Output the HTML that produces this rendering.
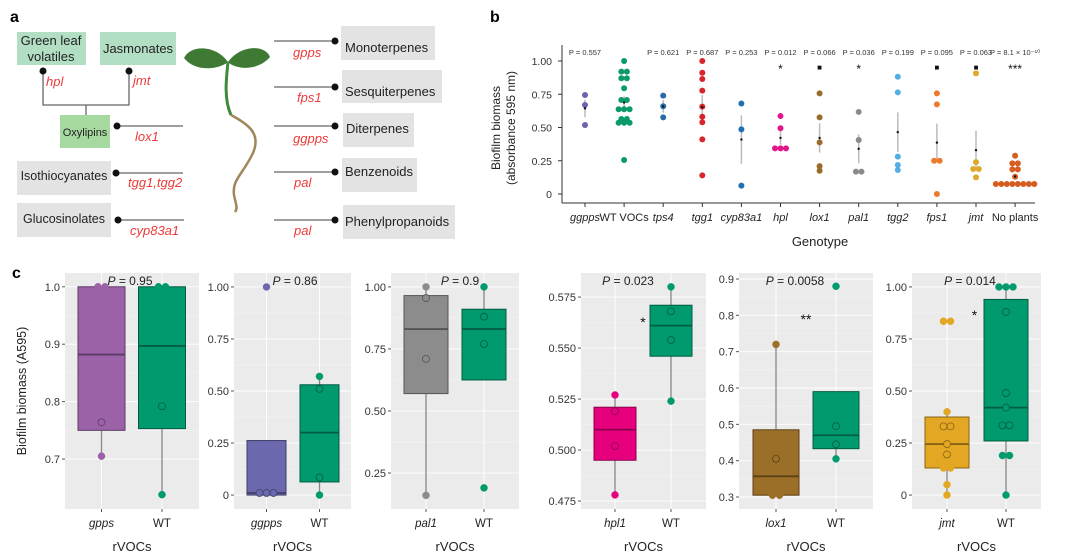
<!DOCTYPE html>
<html><head><meta charset="utf-8">
<style>
html,body{margin:0;padding:0;background:#fff;}
svg{display:block;font-family:"Liberation Sans",sans-serif;}
</style></head>
<body>
<svg id="fig" width="1080" height="554" viewBox="0 0 1080 554" xmlns="http://www.w3.org/2000/svg">
<!-- Panel a -->
<g>
<text x="10" y="22" font-size="16" font-weight="bold">a</text>
<rect x="17" y="32" width="69" height="33" fill="#b2dfc4"/>
<text x="51" y="45" font-size="13" text-anchor="middle" fill="#222">Green leaf</text>
<text x="51" y="61" font-size="13" text-anchor="middle" fill="#222">volatiles</text>
<rect x="100" y="32" width="76" height="33" fill="#b2dfc4"/>
<text x="138" y="53" font-size="13" text-anchor="middle" fill="#222">Jasmonates</text>
<g stroke="#666" stroke-width="1.3" fill="none">
<path d="M43 71 V105 H129 V71"/><path d="M86 105 V115"/>
<path d="M117 126 H183"/><path d="M116 173 H183"/><path d="M118 220 H184"/>
<path d="M274 41 H335"/><path d="M274 87 H335"/><path d="M274 126 H335"/><path d="M274 172 H335"/><path d="M274 220 H335"/>
</g>
<g fill="#111">
<circle cx="43" cy="71" r="3.5"/><circle cx="129" cy="71" r="3.5"/><circle cx="117" cy="126" r="3.5"/><circle cx="116" cy="173" r="3.5"/><circle cx="118" cy="220" r="3.5"/>
<circle cx="335" cy="41" r="3.5"/><circle cx="335" cy="87" r="3.5"/><circle cx="335" cy="126" r="3.5"/><circle cx="335" cy="172" r="3.5"/><circle cx="335" cy="220" r="3.5"/>
</g>
<g fill="#ee3a3a" font-size="13" font-style="italic">
<text x="46" y="86">hpl</text>
<text x="133" y="85">jmt</text>
<text x="135" y="141">lox1</text>
<text x="128" y="187">tgg1,tgg2</text>
<text x="130" y="235">cyp83a1</text>
<text x="293" y="57">gpps</text>
<text x="297" y="102">fps1</text>
<text x="293" y="143">ggpps</text>
<text x="294" y="187">pal</text>
<text x="294" y="235">pal</text>
</g>
<rect x="60" y="115" width="50" height="33" fill="#a6d9a0"/>
<text x="85" y="136" font-size="11" text-anchor="middle" fill="#222">Oxylipins</text>
<rect x="17" y="161" width="94" height="34" fill="#e3e3e3"/>
<text x="64" y="180" font-size="12.5" text-anchor="middle" fill="#222">Isothiocyanates</text>
<rect x="17" y="203" width="94" height="34" fill="#e3e3e3"/>
<text x="64" y="223" font-size="12.5" text-anchor="middle" fill="#222">Glucosinolates</text>
<rect x="341" y="26" width="94" height="34" fill="#e3e3e3"/>
<text x="345" y="52" font-size="13" fill="#222">Monoterpenes</text>
<rect x="342" y="70" width="100" height="33" fill="#e3e3e3"/>
<text x="345" y="96" font-size="13" fill="#222">Sesquiterpenes</text>
<rect x="343" y="113" width="71" height="34" fill="#e3e3e3"/>
<text x="346" y="133" font-size="13" fill="#222">Diterpenes</text>
<rect x="342" y="158" width="75" height="34" fill="#e3e3e3"/>
<text x="345" y="176" font-size="13" fill="#222">Benzenoids</text>
<rect x="343" y="205" width="112" height="34" fill="#e3e3e3"/>
<text x="345" y="226" font-size="13" fill="#222">Phenylpropanoids</text>
<g>
<path d="M228 62 C215 44,190 45,184 58 C195 72,218 70,228 62Z" fill="#3f7a35"/>
<path d="M228 62 C240 45,265 44,270 57 C258 71,236 70,228 62Z" fill="#3f7a35"/>
<path d="M228 62 C226 80,224 100,231 115" stroke="#3f8a3a" stroke-width="3" fill="none"/>
<path d="M231 115 C250 125,262 135,252 155 C242 175,232 180,234 195 C236 205,238 208,235 212" stroke="#a0875a" stroke-width="2.5" fill="none"/>
</g>
</g>

<!-- Panel b static -->
<g>
<text x="490" y="22" font-size="16" font-weight="bold">b</text>
<text transform="translate(500,128) rotate(-90)" font-size="12" text-anchor="middle" fill="#222">Biofilm biomass</text>
<text transform="translate(515,128) rotate(-90)" font-size="12" text-anchor="middle" fill="#222">(absorbance 595 nm)</text>
<text x="820" y="246" font-size="13" text-anchor="middle" fill="#222">Genotype</text>
</g>
<g id="pb"></g>

<!-- Panel c -->
<text x="12" y="278" font-size="16" font-weight="bold">c</text>
<text transform="translate(26,391) rotate(-90)" font-size="12.5" text-anchor="middle" fill="#222">Biofilm biomass (A595)</text>
<g id="pc"></g>
</svg>
<script>
const NS="http://www.w3.org/2000/svg";
function mk(tag,attrs,parent,txt){const e=document.createElementNS(NS,tag);for(const k in attrs)e.setAttribute(k,attrs[k]);if(txt!==undefined)e.textContent=txt;parent.appendChild(e);return e;}

// ===== Panel b data =====
const bCategories=["ggpps","WT VOCs","tps4","tgg1","cyp83a1","hpl","lox1","pal1","tgg2","fps1","jmt","No plants"];
const bItalic=[true,false,true,true,true,true,true,true,true,true,true,false];
const bColors=["#6b63ad","#0a9a6e","#2b6aa8","#d7262b","#1f6fb2","#e0168a","#9a6c2a","#8a8a8a","#55aee3","#ec7a2a","#e0a82a","#d55d20"];
const bPValues=["P = 0.557","","P = 0.621","P = 0.687","P = 0.253","P = 0.012","P = 0.066","P = 0.036","P = 0.199","P = 0.095","P = 0.063","P = 8.1 × 10⁻¹⁰"];
const bSig=["","","","","","*","■","*","","■","■","***"];
const bValues=[
 [0.744,0.669,0.519],
 [1.0,0.92,0.92,0.87,0.87,0.795,0.707,0.707,0.637,0.637,0.637,0.564,0.564,0.536,0.536,0.536,0.256],
 [0.74,0.66,0.576],
 [1.0,0.912,0.865,0.777,0.657,0.581,0.539,0.411,0.14],
 [0.68,0.486,0.063],
 [0.586,0.494,0.343,0.343,0.343],
 [0.757,0.576,0.388,0.21,0.175],
 [0.617,0.406,0.168,0.168],
 [0.882,0.764,0.281,0.218,0.18],
 [0.757,0.674,0.25,0.25,0],
 [0.907,0.24,0.188,0.188,0.125],
 [0.288,0.23,0.23,0.185,0.185,0.13,0.075,0.075,0.075,0.075,0.075,0.075,0.075,0.075]
];
const bTicks=[0,0.25,0.5,0.75,1.0];
const bTickLabels=["0","0.25","0.50","0.75","1.00"];

(function(){
 const g=document.getElementById('pb');
 const y=v=>194-133*v;
 const x=i=>585+i*39.1;
 const ax=mk('line',{x1:562,y1:45,x2:562,y2:203,stroke:'#333','stroke-width':1},g);
 
 
 const bx=mk('line',{x1:562,y1:203,x2:1035,y2:203,stroke:'#333','stroke-width':1},g);
 
 
 bTicks.forEach((t,i)=>{
  mk('line',{x1:558,x2:562,y1:y(t),y2:y(t),stroke:'#333'},g);
  const tl=mk('text',{x:552,y:y(t)+4,'font-size':10.5,'text-anchor':'end',fill:'#333'},g,bTickLabels[i]);
  
  
 });
 bCategories.forEach((c,i)=>{
  const cx=x(i);
  mk('line',{x1:cx,x2:cx,y1:203,y2:207,stroke:'#333'},g);
  const lab=mk('text',{x:cx,y:221,'font-size':11,'text-anchor':'middle',fill:'#222','font-style':bItalic[i]?'italic':'normal'},g,c);
  
  
  if(bPValues[i]){
   const pt=mk('text',{x:cx,y:55,'font-size':7.5,'text-anchor':'middle',fill:'#333'},g,bPValues[i]);
   
   
  }
  if(bSig[i]){
   const st=mk('text',{x:cx,y:bSig[i]==='■'?70:73,'font-size':bSig[i]==='■'?8:12,'text-anchor':'middle',fill:'#111'},g,bSig[i]);
   
   
  }
  const vals=bValues[i];
  const n=vals.length, mean=vals.reduce((a,b)=>a+b,0)/n;
  const sd=Math.sqrt(vals.reduce((a,b)=>a+(b-mean)*(b-mean),0)/Math.max(1,n-1));
  const se=sd/Math.sqrt(n);
  const eb=mk('line',{x1:cx,x2:cx,y1:y(mean+se),y2:y(mean-se),stroke:'#bbb','stroke-width':1.5},g);
  
  
  const groups={};
  vals.forEach(v=>{const k=v.toFixed(3);(groups[k]=groups[k]||[]).push(v);});
  Object.keys(groups).forEach(k=>{
   const arr=groups[k];
   arr.forEach((v,j)=>{
    const dx=(j-(arr.length-1)/2)*5.5;
    const d=mk('circle',{cx:cx+dx,cy:y(v),r:3,fill:bColors[i]},g);
    
    
   });
  });
  const m=mk('circle',{cx:cx,cy:y(mean),r:1.2,fill:'#111'},g);
  
  
 });
})();

// ===== Panel c data =====
const cLabels=[["gpps","WT"],["ggpps","WT"],["pal1","WT"],["hpl1","WT"],["lox1","WT"],["jmt","WT"]];
const cPText=["P = 0.95","P = 0.86","P = 0.9","P = 0.023","P = 0.0058","P = 0.014"];
const cSig=["","","","*","**","*"];
const cMutColors=["#9b62a8","#6b68ae","#8c8c8c","#e6007e","#9c6f28","#e3a724"];
const cWTColor="#009a6e";
// box stats: [lowWhisker,q1,median,q3,highWhisker]
const cMutStats=[[0.705,0.75,0.882,1.0,1.0],[0,0,0.01,0.262,0.262],[0.16,0.57,0.83,0.965,1.0],[0.478,0.495,0.510,0.521,0.527],[0.305,0.305,0.357,0.485,0.72],[0,0.13,0.245,0.375,0.40]];
const cWTStats=[[0.638,0.753,0.897,1.0,1.0],[0,0.063,0.30,0.53,0.57],[0.625,0.625,0.83,0.91,1.0],[0.524,0.546,0.561,0.571,0.58],[0.405,0.433,0.47,0.59,0.59],[0,0.26,0.42,0.94,1.0]];
const cMutPoints=[[1.0,1.0,0.764,0.705],[1.0,0.01,0.01,0.01],[1.0,0.955,0.71,0.16],[0.527,0.519,0.502,0.478],[0.72,0.405,0.305,0.305],[0.835,0.835,0.40,0.33,0.33,0.245,0.195,0.13,0.13,0.05,0]];
const cWTPoints=[[1.0,1.0,0.792,0.638],[0.57,0.51,0.085,0],[1.0,0.88,0.77,0.19],[0.58,0.568,0.554,0.524],[0.88,0.495,0.445,0.405],[1.0,1.0,1.0,0.88,0.49,0.42,0.335,0.335,0.19,0.19,0]];
const cTicks=[[0.7,0.8,0.9,1.0],[0,0.25,0.5,0.75,1.0],[0.25,0.5,0.75,1.0],[0.475,0.5,0.525,0.55,0.575],[0.3,0.4,0.5,0.6,0.7,0.8,0.9],[0,0.25,0.5,0.75,1.0]];
const cTickLabels=[["0.7","0.8","0.9","1.0"],["0","0.25","0.50","0.75","1.00"],["0.25","0.50","0.75","1.00"],["0.475","0.500","0.525","0.550","0.575"],["0.3","0.4","0.5","0.6","0.7","0.8","0.9"],["0","0.25","0.50","0.75","1.00"]];
const cDomains=[[0.613,1.024],[-0.067,1.067],[0.105,1.056],[0.4711,0.5868],[0.267,0.9165],[-0.067,1.067]];
// layout (not data)
const cPanels=[{x0:65,x1:199,m:101.5,d:60.5,w:47,pX:130},{x0:234,x1:351,m:266.5,d:53,w:39,pX:295},{x0:391,x1:519,m:426,d:58,w:44,pX:460},{x0:581,x1:706,m:615,d:56,w:42,pX:628},{x0:739,x1:873,m:776,d:60,w:46,pX:795},{x0:912,x1:1041,m:947,d:59,w:44,pX:970}];

function darker(hex){const n=parseInt(hex.slice(1),16);const r=(n>>16)*0.6|0,g=((n>>8)&255)*0.6|0,b=(n&255)*0.6|0;return `rgb(${r},${g},${b})`;}
(function(){
 const root=document.getElementById('pc');
 const top=273,bot=509;
 cPanels.forEach((P,pi)=>{
  const g=mk('g',{},root);
  
  
  const [d0,d1]=cDomains[pi];
  const y=v=>bot-(v-d0)/(d1-d0)*(bot-top);
  const bg=mk('rect',{x:P.x0,y:top,width:P.x1-P.x0,height:bot-top,fill:'#ebebeb'},g);
  
  
  const t=cTicks[pi];
  for(let k=0;k<t.length;k++){
   mk('line',{x1:P.x0,x2:P.x1,y1:y(t[k]),y2:y(t[k]),stroke:'#fff','stroke-width':0.9},g);
   if(k<t.length-1){const mid=(t[k]+t[k+1])/2;mk('line',{x1:P.x0,x2:P.x1,y1:y(mid),y2:y(mid),stroke:'#f6f6f6','stroke-width':0.5},g);}
   mk('line',{x1:P.x0-3,x2:P.x0,y1:y(t[k]),y2:y(t[k]),stroke:'#555'},g);
   const tl=mk('text',{x:P.x0-5,y:y(t[k])+4,'font-size':11,'text-anchor':'end',fill:'#333'},g,cTickLabels[pi][k]);
   
   
  }
  const xs=[P.m,P.m+P.d];
  const cols=[cMutColors[pi],cWTColor];
  const stats=[cMutStats[pi],cWTStats[pi]];
  const pts=[cMutPoints[pi],cWTPoints[pi]];
  xs.forEach((cx,j)=>{
   mk('line',{x1:cx,x2:cx,y1:bot,y2:bot+3,stroke:'#555'},g);
   mk('line',{x1:cx,x2:cx,y1:top,y2:bot,stroke:'#fff','stroke-width':0.9},g);
   const lab=mk('text',{x:cx,y:527,'font-size':11.5,'text-anchor':'middle',fill:'#222','font-style':j===0?'italic':'normal'},g,cLabels[pi][j]);
   
   
  });
  xs.forEach((cx,j)=>{
   const s=stats[j],dk=darker(cols[j]);
   const wh=mk('line',{x1:cx,x2:cx,y1:y(s[0]),y2:y(s[4]),stroke:'#888','stroke-width':1.3},g);
   
   
   const bx=mk('rect',{x:cx-P.w/2,y:y(s[3]),width:P.w,height:Math.max(1,y(s[1])-y(s[3])),fill:cols[j],stroke:dk,'stroke-width':1},g);
   
   
   const md=mk('line',{x1:cx-P.w/2,x2:cx+P.w/2,y1:y(s[2]),y2:y(s[2]),stroke:dk,'stroke-width':1.8},g);
   
   
   const groups={};
   pts[j].forEach(v=>{const k=v.toFixed(3);(groups[k]=groups[k]||[]).push(v);});
   Object.keys(groups).forEach(k=>{
    const arr=groups[k];
    arr.forEach((v,q)=>{
     const dx=(q-(arr.length-1)/2)*7;
     const inside=v>s[1]+1e-9&&v<s[3]-1e-9;
     const c=mk('circle',{cx:cx+dx,cy:y(v),r:3.5,fill:cols[j],stroke:inside?dk:cols[j],'stroke-width':inside?0.8:0.5},g);
     
     
    });
   });
  });
  const pt=mk('text',{x:P.pX,y:285,'font-size':12,'text-anchor':'middle',fill:'#222'},g);
  
  
  mk('tspan',{'font-style':'italic'},pt,'P');
  mk('tspan',{},pt,cPText[pi].slice(1));
  if(cSig[pi]){
   const sg=mk('text',{x:(xs[0]+xs[1])/2+(pi===5?-2:0),y:pi===5?320:pi===3?327:324,'font-size':14,'text-anchor':'middle',fill:'#111'},g,cSig[pi]);
   
   
  }
  const rv=mk('text',{x:(P.x0+P.x1)/2,y:551,'font-size':13,'text-anchor':'middle',fill:'#222'},g,'rVOCs');
  
  
 });
})();
</script>
</body></html>
